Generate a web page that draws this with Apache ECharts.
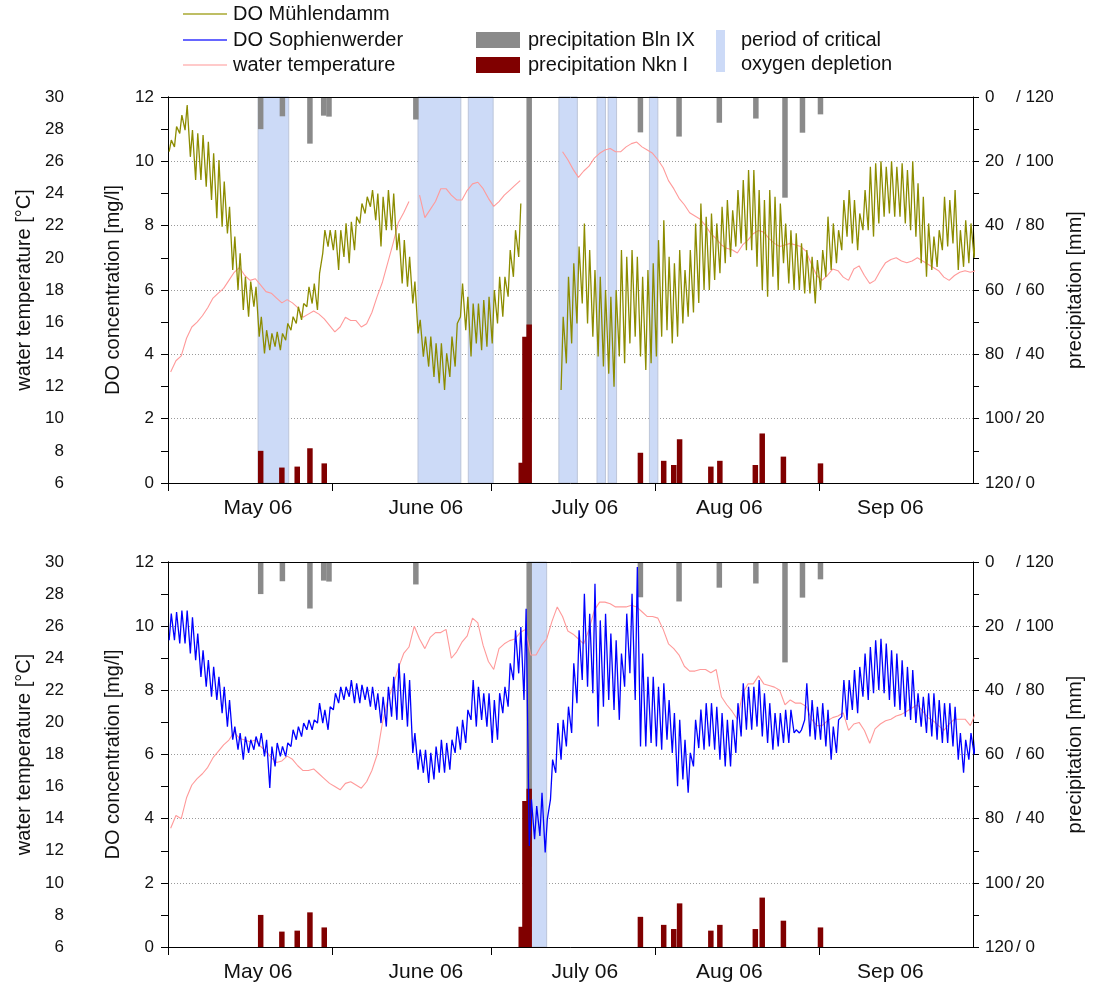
<!DOCTYPE html>
<html><head><meta charset="utf-8">
<script src="https://cdn.jsdelivr.net/npm/echarts@6/dist/echarts.min.js"></script>
<style>html,body{margin:0;padding:0;background:#fff}#c{width:1093px;height:983px}</style>
</head><body><div id="c"></div>
<script>
// ---- x axis (days since 1 May 2006) ----
const monthTickDays = [0, 31, 61, 92, 123];
const monthLabels = ['May 06', 'June 06', 'July 06', 'Aug 06', 'Sep 06'];
const monthLabelDays = [17.0, 48.7, 78.7, 106.0, 136.4];

// ---- DO Mühlendamm (daily min / max, mg/l), day 0..152, null = no data ----
const doMuehMin = [10.3,10.45,10.87,10.97,10.14,9.42,9.42,9.21,8.8,8.23,7.97,7.76,6.62,6.0,5.38,5.17,5.48,4.55,4.03,4.13,
4.24,4.13,4.44,4.75,4.96,5.07,5.48,5.58,5.38,7.14,7.35,7.24,6.62,7.03,6.83,7.24,8.07,8.38,8.59,8.17,
7.35,7.86,7.86,7.24,6.2,6.1,5.58,4.65,3.93,3.62,3.3,3.1,2.89,3.3,3.62,5.17,4.75,3.93,4.34,4.13,
4.24,4.34,4.96,5.17,5.79,6.41,7.03,null,null,null,null,null,null,null,2.89,3.72,4.34,4.96,5.58,4.96,
4.55,3.93,3.62,3.4,2.99,3.93,3.72,4.34,4.55,3.93,3.51,3.72,3.93,4.55,4.75,4.34,4.55,4.96,5.17,5.3,
5.6,6.0,6.0,6.31,6.52,6.83,7.03,7.35,7.45,7.24,7.24,6.72,6.0,5.79,6.41,6.0,6.83,6.2,6.0,6.0,
5.89,5.89,5.58,6.0,6.41,6.62,6.83,7.24,7.66,7.45,7.24,7.86,7.86,7.66,8.07,8.28,8.38,8.28,8.28,8.07,
7.86,7.66,6.83,6.41,6.62,6.72,7.24,7.35,7.45,6.62,6.72,6.83,7.0];
const doMuehMax = [10.66,11.08,11.44,11.75,10.97,10.87,10.82,10.61,10.25,10.04,9.37,8.59,7.66,7.14,6.41,6.26,6.1,5.17,4.75,4.65,
4.7,4.65,4.96,5.17,5.48,5.58,6.1,6.2,6.52,7.86,7.86,7.86,7.86,8.07,8.12,8.28,8.69,8.9,9.11,9.0,
8.9,9.11,9.0,7.76,7.55,7.03,6.26,5.07,4.55,4.55,4.34,4.34,4.03,4.55,4.96,6.2,5.79,5.58,5.58,5.69,
5.79,6.0,6.41,6.41,7.24,7.86,8.69,null,null,null,null,null,null,null,5.17,6.41,6.83,7.35,8.07,7.24,
6.62,6.41,6.0,5.79,6.0,7.24,7.03,7.24,7.03,6.41,6.62,6.83,7.55,8.17,7.03,6.83,7.24,6.62,7.24,8.07,
8.69,8.28,8.38,8.07,8.59,8.8,8.48,9.11,9.42,9.73,9.73,9.11,8.8,9.11,8.9,8.69,8.07,7.86,7.76,7.45,
7.24,7.03,6.93,7.24,8.28,8.07,7.86,8.8,9.11,8.8,8.38,9.11,9.83,9.94,10.0,9.83,10.0,9.83,9.94,9.73,
10.0,9.32,8.9,8.07,7.66,7.86,8.9,8.8,9.11,7.86,8.17,8.07,8.2];

// ---- DO Sophienwerder (daily min / max, mg/l) ----
const doSophMin = [9.56,9.56,9.46,9.46,9.15,8.94,8.42,8.11,7.8,7.7,7.29,6.87,6.46,6.15,5.84,6.05,6.15,6.25,5.94,4.96,
5.63,5.94,5.94,6.25,6.46,6.56,6.77,6.77,6.98,6.98,6.77,7.39,7.6,7.7,7.8,7.6,7.6,7.7,7.49,7.39,
6.98,6.87,7.18,7.08,7.08,6.87,6.05,5.53,5.43,5.11,5.22,5.43,5.43,5.53,6.05,6.15,6.36,7.08,6.87,7.08,
6.87,6.36,6.46,7.29,7.49,8.32,8.53,7.7,3.15,3.36,3.46,2.95,4.6,5.43,5.84,6.25,6.67,7.6,8.32,8.11,
7.91,6.87,7.49,7.7,7.39,7.08,8.11,8.53,7.7,6.25,6.25,6.36,6.25,6.15,6.46,6.05,5.01,5.22,4.81,5.63,
6.2,6.15,6.25,6.15,5.84,5.63,5.63,6.05,6.56,6.77,6.77,6.87,6.56,6.36,6.15,6.25,6.36,6.36,6.67,6.67,
7.08,6.56,6.46,6.46,6.25,5.84,6.05,7.18,7.08,7.39,7.29,7.8,7.7,7.91,8.01,7.91,7.7,7.49,7.39,7.18,
7.08,6.98,6.87,6.67,6.56,6.46,6.36,6.36,6.25,5.84,5.43,5.84,6.0];
const doSophMax = [10.39,10.44,10.49,10.49,10.28,9.77,9.25,8.94,8.73,8.42,8.11,7.7,6.87,6.67,6.56,6.46,6.56,6.67,6.46,6.25,
6.36,6.25,6.36,6.77,6.87,6.98,7.08,7.08,7.6,7.39,7.49,7.91,8.11,8.11,8.32,8.22,8.17,8.11,8.11,7.91,
7.8,8.11,8.42,8.84,8.53,8.32,6.67,6.15,6.15,6.05,6.25,6.46,6.36,6.46,6.87,7.08,7.39,8.32,8.11,7.91,
7.91,7.7,7.91,8.11,8.84,9.87,9.97,10.54,4.6,4.39,4.81,3.98,5.84,6.98,7.08,7.49,8.84,9.87,11.01,10.39,
11.32,10.18,10.39,9.77,9.56,9.15,10.39,11.01,11.84,9.15,8.42,8.42,8.11,8.22,7.7,7.29,7.08,6.46,6.05,7.08,
7.4,7.6,7.6,7.49,7.29,7.08,7.08,7.6,8.22,8.11,8.11,8.32,7.91,7.6,7.29,7.29,7.39,7.39,6.77,6.77,
8.22,7.7,7.49,7.6,7.39,6.87,7.08,8.32,8.32,8.63,8.73,9.15,9.35,9.56,9.61,9.46,9.25,9.15,8.94,8.73,
8.63,7.91,7.8,7.91,7.91,7.7,7.6,7.6,7.49,6.67,6.46,6.67,6.7];

// ---- water temperature (daily, °C) ----
const tempMueh = [12.9,13.6,13.9,15.0,15.7,16.0,16.4,16.9,17.5,17.8,18.1,18.6,19.1,19.4,18.9,18.6,18.7,18.3,17.9,17.8,
17.5,17.2,17.4,17.2,16.9,16.3,16.5,16.7,16.5,16.2,15.8,15.4,15.7,16.3,16.1,16.1,15.7,15.9,16.6,17.6,
18.5,19.7,20.9,22.2,22.8,23.5,null,23.9,22.5,23.0,23.5,24.3,24.3,23.9,23.6,23.6,24.2,24.6,24.7,24.3,
23.7,23.2,23.5,23.9,24.2,24.5,24.8,null,null,null,null,null,null,null,26.6,26.1,25.5,25.0,25.4,25.7,
26.2,26.5,26.7,26.8,26.6,26.6,26.9,27.1,27.2,26.9,26.7,26.5,26.1,25.6,24.8,24.3,23.7,23.3,22.8,22.6,
22.4,22.0,21.5,21.2,20.8,20.6,20.5,20.3,20.8,21.1,21.5,21.7,21.6,21.2,20.9,20.7,20.8,20.9,20.8,20.7,
20.4,19.6,18.9,18.6,18.9,19.3,19.2,18.8,18.6,19.3,19.5,18.9,18.4,18.6,19.2,19.7,19.9,20.0,19.8,19.7,
19.8,20.0,19.8,19.6,19.4,19.2,18.8,18.6,18.9,19.1,19.2,19.1,19.2];
const tempSoph = [13.4,14.2,14.0,15.3,16.1,16.5,16.8,17.2,17.8,18.2,18.6,18.9,19.4,19.0,18.9,18.8,18.9,18.5,18.2,17.8,
17.5,17.6,17.9,17.7,17.3,17.0,17.0,17.1,16.8,16.5,16.2,16.0,15.8,16.2,16.3,16.1,15.9,16.3,17.0,18.0,
20.0,21.4,22.3,23.4,24.3,24.7,26.0,25.2,24.6,25.3,25.6,25.6,25.8,24.0,24.4,25.0,25.4,26.5,26.2,24.8,
23.8,23.3,24.6,24.9,25.1,25.2,25.6,25.8,24.2,24.2,24.8,25.2,26.3,27.2,26.6,25.7,25.5,25.2,24.9,25.8,
27.0,27.5,27.5,27.4,27.2,27.2,27.2,27.3,27.2,26.9,26.6,26.6,26.5,25.8,24.9,24.6,24.2,23.5,23.2,23.2,
23.3,23.3,23.1,23.3,21.6,21.1,20.7,20.2,21.8,22.4,22.4,22.9,22.4,22.3,22.2,22.0,21.1,21.4,21.2,21.2,
21.0,20.2,19.8,19.8,20.1,20.3,20.4,20.6,19.5,19.9,20.0,19.5,18.7,19.6,19.9,20.1,20.2,20.4,20.5,20.7,
20.9,21.1,20.7,20.3,20.1,19.8,19.5,19.9,20.2,20.2,20.2,19.8,20.6];

// ---- precipitation (mm) ----
const blnDays = [17.5, 21.6, 26.8, 29.4, 30.4, 46.8, 68.2, 89.2, 96.5, 104.1, 111.0, 116.5, 119.8, 123.2];
const blnMm   = [10, 6, 14.5, 5.8, 6.1, 7, 95, 11, 12.3, 8, 6.7, 31.3, 11.1, 5.4];
const nknDays = [17.5, 21.5, 24.4, 26.8, 29.5, 66.7, 67.4, 68.2, 89.2, 93.6, 95.5, 96.6, 102.5, 104.2, 110.9, 112.2, 116.2, 123.2];
const nknMm   = [10, 4.8, 5.1, 10.8, 6.1, 6.3, 45.5, 49.3, 9.4, 6.9, 5.6, 13.6, 5.1, 6.9, 5.6, 15.4, 8.2, 6.1];

// ---- periods of critical oxygen depletion (day ranges) ----
const periodsMueh = [[17.0, 22.8], [47.2, 55.3], [56.7, 61.4], [73.8, 77.3], [81.0, 82.6], [83.1, 84.7], [90.9, 92.5]];
const periodsSoph = [[67.9, 71.5]];

// ---- right axis tick labels ----
const precipTicks = [0, 20, 40, 60, 80, 100, 120];
const precipTicksNkn = [120, 100, 80, 60, 40, 20, 0];

// ---- colours ----
const C_OLIVE = '#8C8C00', C_BLUE = '#0000FF', C_PINK = '#FF9A9A', C_GRAY = '#8A8A8A', C_RED = '#800000', C_SHADE = '#CCDAF7';
const FONT = 'Liberation Sans, Arial, sans-serif';

function doPoints(mins, maxs) {
  const p = [];
  for (let d = 0; d < mins.length; d++) {
    p.push([d + 0.22, mins[d] == null ? '-' : mins[d]]);
    p.push([d + 0.62, maxs[d] == null ? '-' : maxs[d]]);
  }
  return p;
}
function dayPoints(arr) { return arr.map((v, d) => [d + 0.5, v == null ? '-' : v]); }
function barPoints(days, vals) { return days.map((d, i) => [d, vals[i]]); }

const grids = [{ left: 168, width: 812, top: 97, height: 386 }, { left: 168, width: 812, top: 562, height: 387 }];

const xAxes = [], yAxes = [], series = [];
grids.forEach((g, gi) => {
  xAxes.push({
    type: 'value', gridIndex: gi, min: 0, max: 152, z: 4,
    axisLine: { show: true, lineStyle: { color: '#000', width: 1 } },
    axisTick: { show: true, inside: false, length: 8, customValues: monthTickDays, lineStyle: { color: '#000' } },
    axisLabel: { show: true, customValues: monthLabelDays, margin: 15, fontSize: 21, color: '#111', fontFamily: FONT,
      formatter: v => { let best = 0; monthLabelDays.forEach((m, i) => { if (Math.abs(m - v) < Math.abs(monthLabelDays[best] - v)) best = i; }); return monthLabels[best]; } },
    splitLine: { show: false }
  });
  xAxes.push({
    type: 'value', gridIndex: gi, min: 0, max: 152, position: 'top', z: 4,
    axisLine: { show: true, lineStyle: { color: '#000', width: 1 } },
    axisTick: { show: false }, axisLabel: { show: false }, splitLine: { show: false }
  });
  // DO axis
  yAxes.push({
    type: 'value', gridIndex: gi, position: 'left', min: 0, max: 12, interval: 2,
    name: 'DO concentration [mg/l]', nameLocation: 'middle', nameRotate: 90, nameGap: 45,
    nameTextStyle: { fontSize: 20, color: '#111', fontFamily: FONT },
    axisLine: { show: true, lineStyle: { color: '#000' } },
    axisTick: { show: true, length: 7, lineStyle: { color: '#000' } },
    minorTick: { show: true, splitNumber: 2, length: 7, lineStyle: { color: '#000' } },
    axisLabel: { margin: 14, fontSize: 17, color: '#111', fontFamily: FONT },
    splitLine: { show: true, lineStyle: { color: '#9a9a9a', type: [1, 2], width: 1 } }
  });
  // temperature axis
  yAxes.push({
    type: 'value', gridIndex: gi, position: 'left', offset: 88, min: 6, max: 30, interval: 2,
    name: 'water temperature [°C]', nameLocation: 'middle', nameRotate: 90, nameGap: 44,
    nameTextStyle: { fontSize: 20, color: '#111', fontFamily: FONT },
    axisLine: { show: true, lineStyle: { color: '#000' } },
    axisTick: { show: true, length: 7, lineStyle: { color: '#000' } },
    axisLabel: { margin: 16, fontSize: 17, color: '#111', fontFamily: FONT },
    splitLine: { show: false }
  });
  // precipitation Bln IX (inverse) + label for both
  yAxes.push({
    type: 'value', gridIndex: gi, position: 'right', min: 0, max: 120, interval: 20, inverse: true,
    name: 'precipitation [mm]', nameLocation: 'middle', nameRotate: 90, nameGap: 92,
    nameTextStyle: { fontSize: 20, color: '#111', fontFamily: FONT },
    axisLine: { show: true, lineStyle: { color: '#000' } },
    axisTick: { show: true, length: 6, lineStyle: { color: '#000' } },
    minorTick: { show: true, splitNumber: 2, length: 6, lineStyle: { color: '#000' } },
    axisLabel: { margin: 12, fontSize: 17, color: '#111', fontFamily: FONT, align: 'left',
      formatter: v => { const i = precipTicks.indexOf(v); return '{a|' + v + '}{b|/ ' + precipTicksNkn[i] + '}'; },
      rich: { a: { width: 31, fontSize: 17, color: '#111', fontFamily: FONT, align: 'left' }, b: { fontSize: 17, color: '#111', fontFamily: FONT } } },
    splitLine: { show: false }
  });
  // precipitation Nkn I (hidden, bottom-up)
  yAxes.push({ type: 'value', gridIndex: gi, position: 'right', min: 0, max: 120, show: false, splitLine: { show: false } });
});

function addPanel(gi, doMin, doMax, temp, doColor, doName, periods) {
  const xa = gi * 2, xb = gi * 2 + 1, ya = gi * 4;
  series.push({
    type: 'line', xAxisIndex: xa, yAxisIndex: ya, data: [[0, '-']], z: 1, silent: true,
    markArea: { silent: true, itemStyle: { color: C_SHADE, borderColor: '#B4BDD0', borderWidth: 0.8 },
      data: periods.map(p => [{ xAxis: p[0] }, { xAxis: p[1] }]) }
  });
  series.push({ name: 'precipitation Bln IX', type: 'bar', xAxisIndex: xa, yAxisIndex: ya + 2, barWidth: 5.5, z: 2,
    itemStyle: { color: C_GRAY }, data: barPoints(blnDays, blnMm) });
  series.push({ name: 'precipitation Nkn I', type: 'bar', xAxisIndex: xb, yAxisIndex: ya + 3, barWidth: 5.5, z: 2,
    itemStyle: { color: C_RED }, data: barPoints(nknDays, nknMm) });
  series.push({ name: 'water temperature', type: 'line', xAxisIndex: xa, yAxisIndex: ya + 1, symbol: 'none', z: 3,
    lineStyle: { color: C_PINK, width: 1.1 }, data: dayPoints(temp), connectNulls: false });
  series.push({ name: doName, type: 'line', xAxisIndex: xa, yAxisIndex: ya, symbol: 'none', z: 3,
    lineStyle: { color: doColor, width: 1.3 }, data: doPoints(doMin, doMax), connectNulls: false });
}
addPanel(0, doMuehMin, doMuehMax, tempMueh, C_OLIVE, 'DO Mühlendamm', periodsMueh);
addPanel(1, doSophMin, doSophMax, tempSoph, C_BLUE, 'DO Sophienwerder', periodsSoph);

const LT = { font: '20px ' + FONT, fill: '#111', verticalAlign: 'middle' };
const graphic = [
  { type: 'line', shape: { x1: 183, y1: 14, x2: 227, y2: 14 }, style: { stroke: '#A8A830', lineWidth: 1.5 } },
  { type: 'text', x: 233, y: 14, style: Object.assign({ text: 'DO Mühlendamm' }, LT) },
  { type: 'line', shape: { x1: 183, y1: 40, x2: 227, y2: 40 }, style: { stroke: '#3333FF', lineWidth: 1.5 } },
  { type: 'text', x: 233, y: 40, style: Object.assign({ text: 'DO Sophienwerder' }, LT) },
  { type: 'line', shape: { x1: 183, y1: 65, x2: 227, y2: 65 }, style: { stroke: '#FFB8B8', lineWidth: 1.5 } },
  { type: 'text', x: 233, y: 65, style: Object.assign({ text: 'water temperature' }, LT) },
  { type: 'rect', shape: { x: 476, y: 32, width: 44, height: 16 }, style: { fill: C_GRAY } },
  { type: 'text', x: 528, y: 40, style: Object.assign({ text: 'precipitation Bln IX' }, LT) },
  { type: 'rect', shape: { x: 476, y: 57, width: 44, height: 16 }, style: { fill: C_RED } },
  { type: 'text', x: 528, y: 65, style: Object.assign({ text: 'precipitation Nkn I' }, LT) },
  { type: 'rect', shape: { x: 716, y: 30, width: 9, height: 42 }, style: { fill: C_SHADE } },
  { type: 'text', x: 741, y: 40, style: Object.assign({ text: 'period of critical' }, LT) },
  { type: 'text', x: 741, y: 64, style: Object.assign({ text: 'oxygen depletion' }, LT) }
];

const chart = echarts.init(document.getElementById('c'), null, { renderer: 'canvas' });
chart.setOption({
  animation: false,
  textStyle: { fontFamily: FONT },
  grid: grids,
  xAxis: xAxes,
  yAxis: yAxes,
  series: series,
  graphic: graphic
});
</script></body></html>
